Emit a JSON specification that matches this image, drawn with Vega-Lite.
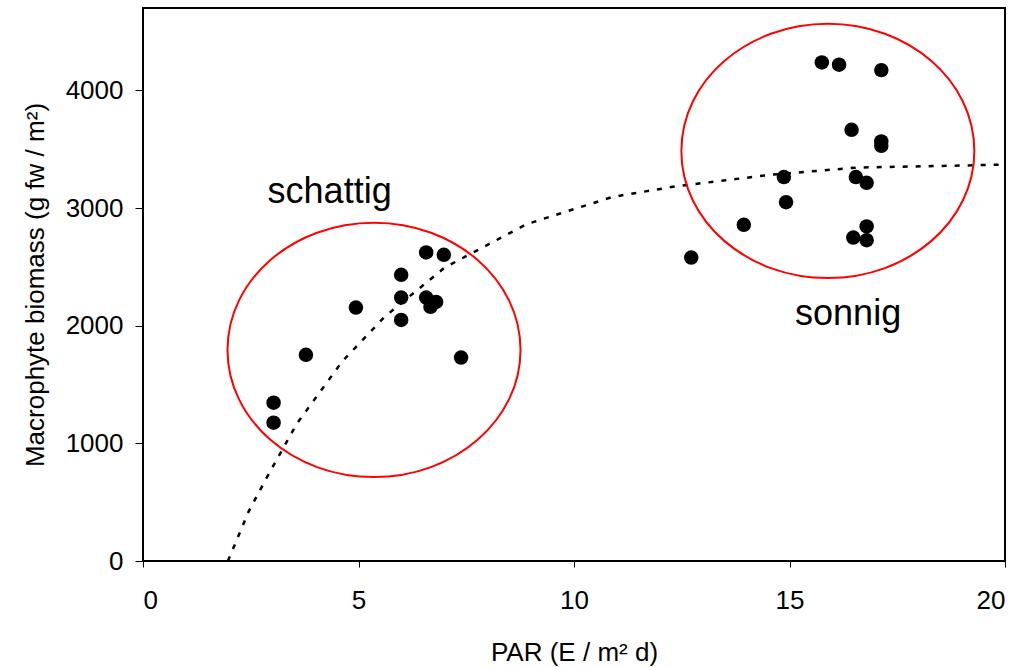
{
  "$schema": "https://vega.github.io/schema/vega-lite/v6.json",
  "autosize": {"type": "none"},
  "padding": {"left": 143, "top": 8, "right": 18, "bottom": 106},
  "width": 862,
  "height": 553,
  "background": "white",
  "config": {
    "view": {"stroke": "black", "strokeWidth": 2},
    "font": "Liberation Sans",
    "axis": {
      "grid": false,
      "domain": false,
      "tickColor": "black",
      "tickWidth": 1,
      "labelColor": "black",
      "labelFont": "Liberation Sans",
      "labelFontSize": 26,
      "titleFont": "Liberation Sans",
      "titleFontSize": 26,
      "titleFontWeight": "normal",
      "titleColor": "black"
    }
  },
  "datasets": {
    "biomass": [
      {"par": 3.03, "biomass": 1346},
      {"par": 3.03, "biomass": 1176},
      {"par": 3.78, "biomass": 1752},
      {"par": 4.94, "biomass": 2154},
      {"par": 5.99, "biomass": 2432},
      {"par": 5.99, "biomass": 2239},
      {"par": 5.99, "biomass": 2049},
      {"par": 6.57, "biomass": 2622},
      {"par": 6.57, "biomass": 2239},
      {"par": 6.67, "biomass": 2160},
      {"par": 6.8, "biomass": 2202},
      {"par": 6.98, "biomass": 2602},
      {"par": 7.38, "biomass": 1729},
      {"par": 12.72, "biomass": 2579},
      {"par": 13.94, "biomass": 2857},
      {"par": 14.87, "biomass": 3263},
      {"par": 14.92, "biomass": 3050},
      {"par": 15.75, "biomass": 4237},
      {"par": 16.15, "biomass": 4218},
      {"par": 16.44, "biomass": 3665},
      {"par": 16.48, "biomass": 2749},
      {"par": 16.54, "biomass": 3263},
      {"par": 16.79, "biomass": 3214},
      {"par": 16.79, "biomass": 2843},
      {"par": 16.79, "biomass": 2727},
      {"par": 17.13, "biomass": 4172},
      {"par": 17.13, "biomass": 3566},
      {"par": 17.13, "biomass": 3529}
    ],
    "trend": [
      {"par": 1.97, "biomass": 0},
      {"par": 2.45, "biomass": 420},
      {"par": 2.87, "biomass": 708},
      {"par": 3.57, "biomass": 1168},
      {"par": 4.62, "biomass": 1695},
      {"par": 5.61, "biomass": 2077},
      {"par": 7.0, "biomass": 2494},
      {"par": 8.9, "biomass": 2863},
      {"par": 10.9, "biomass": 3095},
      {"par": 12.34, "biomass": 3183},
      {"par": 14.55, "biomass": 3282},
      {"par": 16.56, "biomass": 3344},
      {"par": 19.77, "biomass": 3367},
      {"par": 20.0, "biomass": 3370}
    ],
    "groups": [
      {"label": "schattig", "cx": 5.36, "cy": 1794, "lx": 4.33, "ly": 3044},
      {"label": "sonnig", "cx": 15.89, "cy": 3485, "lx": 16.36, "ly": 2007}
    ]
  },
  "layer": [
    {
      "data": {"name": "trend"},
      "mark": {"type": "line", "color": "black", "strokeWidth": 2.5, "strokeDash": [5, 8], "clip": true},
      "encoding": {
        "x": {
          "field": "par", "type": "quantitative",
          "scale": {"domain": [0, 20], "nice": false},
          "axis": {
            "values": [0, 5, 10, 15, 20],
            "format": "d",
            "tickSize": 6,
            "labelPadding": 20,
            "title": "PAR (E / m² d)",
            "titleBaseline": "alphabetic",
            "titleY": 99
          }
        },
        "y": {
          "field": "biomass", "type": "quantitative",
          "scale": {"domain": [0, 4700], "nice": false},
          "axis": {
            "values": [0, 1000, 2000, 3000, 4000],
            "format": "d",
            "tickSize": 8,
            "labelPadding": 12,
            "title": "Macrophyte biomass (g fw / m²)",
            "titleBaseline": "alphabetic",
            "titleX": -100
          }
        }
      }
    },
    {
      "data": {"name": "biomass"},
      "mark": {"type": "circle", "color": "black", "opacity": 1, "size": 210},
      "encoding": {
        "x": {"field": "par", "type": "quantitative"},
        "y": {"field": "biomass", "type": "quantitative"}
      }
    },
    {
      "data": {"name": "groups"},
      "mark": {
        "type": "point",
        "shape": "M-1,0A1,0.868,0,1,1,1,0A1,0.868,0,1,1,-1,0Z",
        "size": 85849,
        "filled": false,
        "stroke": "#ff0000",
        "strokeWidth": 2,
        "opacity": 1
      },
      "encoding": {
        "x": {"field": "cx", "type": "quantitative"},
        "y": {"field": "cy", "type": "quantitative"}
      }
    },
    {
      "data": {"name": "groups"},
      "mark": {"type": "text", "fontSize": 36, "font": "Liberation Sans", "color": "black", "align": "center", "baseline": "alphabetic"},
      "encoding": {
        "x": {"field": "lx", "type": "quantitative"},
        "y": {"field": "ly", "type": "quantitative"},
        "text": {"field": "label"}
      }
    }
  ]
}
